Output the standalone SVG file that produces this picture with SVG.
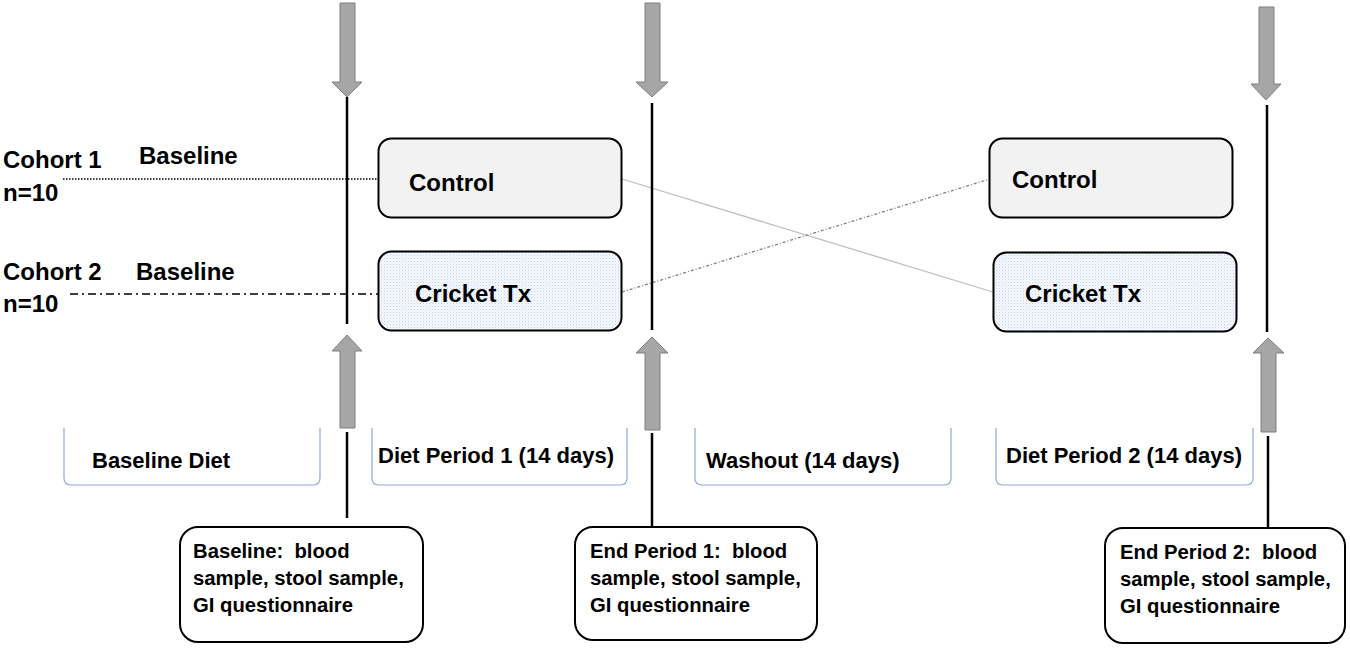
<svg xmlns="http://www.w3.org/2000/svg" width="1350" height="650" viewBox="0 0 1350 650">
<style>
text{font-family:"Liberation Sans",Arial,sans-serif;font-weight:bold;fill:#000;white-space:pre}
.lbl{font-size:24px}
.per{font-size:22px}
.box{stroke:#000;stroke-width:2}
.ctl{fill:#f2f2f2}
.cri{fill:url(#dots)}
.arr{fill:#a6a6a6;stroke:#7f7f7f;stroke-width:1}
.vl{stroke:#000;stroke-width:2.5;fill:none}
.br{fill:none;stroke:#8eaadb;stroke-width:1.2}
.info{fill:#fff;stroke:#000;stroke-width:2}
.it{font-size:20.3px}
</style>
<defs>
<pattern id="dots" width="3" height="3" patternUnits="userSpaceOnUse">
<rect width="3" height="3" fill="#f7f9fd"/>
<rect width="1" height="1" fill="#c3d1ec"/>
<rect x="1.5" y="1.5" width="1" height="1" fill="#d6e0f3"/>
</pattern>
</defs>
<rect width="1350" height="650" fill="#fff"/>

<g id="connectors">
<line x1="63" y1="179" x2="378" y2="179" stroke="#000" stroke-width="1.5" stroke-dasharray="1.5,1.5"/>
<line x1="70" y1="294" x2="378" y2="294" stroke="#000" stroke-width="1.5" stroke-dasharray="8,4,2,4"/>
<line x1="622" y1="179" x2="993" y2="292" stroke="#bfbfbf" stroke-width="1.3"/>
<line x1="622" y1="292" x2="990" y2="179" stroke="#7f7f7f" stroke-width="1.3" stroke-dasharray="3,2,1,2"/>
<line class="vl" x1="347" y1="97" x2="347" y2="324"/>
<line class="vl" x1="652" y1="103" x2="652" y2="330"/>
<line class="vl" x1="1267" y1="105" x2="1267" y2="332"/>
<line class="vl" x1="347" y1="432" x2="347" y2="518"/>
<line class="vl" x1="652" y1="433" x2="652" y2="527"/>
<line class="vl" x1="1268" y1="436" x2="1268" y2="528"/>
</g>

<g id="arrows">
<polygon class="arr" points="340,3 355,3 355,82 362,82 347,97 332,82 340,82"/>
<polygon class="arr" points="645,3 660,3 660,82 668,82 652,97 636,82 645,82"/>
<polygon class="arr" points="1259,7 1274,7 1274,84 1281,84 1266,100 1251,84 1259,84"/>
<polygon class="arr" points="347,335 362,351 355,351 355,428 340,428 340,351 332,351"/>
<polygon class="arr" points="652,337 668,353 660,353 660,430 645,430 645,353 636,353"/>
<polygon class="arr" points="1268,338 1284,353 1276,353 1276,432 1261,432 1261,353 1253,353"/>
</g>

<g id="cohort1">
<text class="lbl" x="3" y="168">Cohort 1</text>
<text class="lbl" x="3" y="201">n=10</text>
<text class="lbl" x="139" y="164">Baseline</text>
</g>
<g id="cohort2">
<text class="lbl" x="3" y="280">Cohort 2</text>
<text class="lbl" x="3" y="312">n=10</text>
<text class="lbl" x="136" y="280">Baseline</text>
</g>

<g id="control1">
<rect class="box ctl" x="378.5" y="138.5" width="243" height="79" rx="13"/>
<text class="lbl" x="409" y="191">Control</text>
</g>
<g id="cricket1">
<rect class="box cri" x="378.5" y="251.5" width="243" height="79" rx="13"/>
<text class="lbl" x="415" y="302">Cricket Tx</text>
</g>
<g id="control2">
<rect class="box ctl" x="989.5" y="138.5" width="243" height="79" rx="13"/>
<text class="lbl" x="1012" y="188">Control</text>
</g>
<g id="cricket2">
<rect class="box cri" x="993.5" y="252.5" width="243" height="79" rx="13"/>
<text class="lbl" x="1025" y="302">Cricket Tx</text>
</g>

<g id="period-baseline">
<path class="br" d="M64,428 V478 Q64,485 71,485 H313 Q320,485 320,478 V428"/>
<text class="per" x="92" y="468">Baseline Diet</text>
</g>
<g id="period-1">
<path class="br" d="M372,428 V478 Q372,485 379,485 H620 Q627,485 627,478 V428"/>
<text class="per" x="378" y="463">Diet Period 1 (14 days)</text>
</g>
<g id="period-washout">
<path class="br" d="M695,428 V478 Q695,485 702,485 H944 Q951,485 951,478 V428"/>
<text class="per" x="706" y="468">Washout (14 days)</text>
</g>
<g id="period-2">
<path class="br" d="M996,428 V478 Q996,485 1003,485 H1246 Q1253,485 1253,478 V428"/>
<text class="per" x="1006" y="463">Diet Period 2 (14 days)</text>
</g>

<g id="sample-baseline">
<rect class="info" x="180" y="527" width="243" height="115" rx="18"/>
<text class="it" x="193" y="558">Baseline:  blood</text>
<text class="it" x="193" y="585">sample, stool sample,</text>
<text class="it" x="193" y="612">GI questionnaire</text>
</g>
<g id="sample-end1">
<rect class="info" x="575" y="527" width="242" height="113" rx="18"/>
<text class="it" x="590" y="558">End Period 1:  blood</text>
<text class="it" x="590" y="585">sample, stool sample,</text>
<text class="it" x="590" y="612">GI questionnaire</text>
</g>
<g id="sample-end2">
<rect class="info" x="1105" y="528" width="240" height="115" rx="18"/>
<text class="it" x="1120" y="559">End Period 2:  blood</text>
<text class="it" x="1120" y="586">sample, stool sample,</text>
<text class="it" x="1120" y="613">GI questionnaire</text>
</g>
</svg>
